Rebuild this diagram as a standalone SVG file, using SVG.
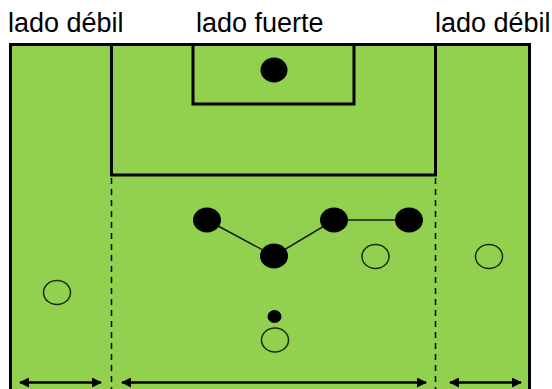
<svg xmlns="http://www.w3.org/2000/svg" width="552" height="389" viewBox="0 0 552 389">
<style>
.lbl{font-family:"Liberation Sans",Arial,sans-serif;font-size:27px;fill:#000}
.fl{fill:none;stroke:#000;stroke-width:3}
.pitch{fill:#92D050;stroke:#000;stroke-width:3}
.dash{stroke:#000;stroke-width:1.5;stroke-dasharray:6,5}
.def{fill:#000}
.att{fill:none;stroke:#1a2a0a;stroke-width:1.5}
.arr{stroke:#000;stroke-width:2.5;marker-start:url(#ah);marker-end:url(#ah)}
.lnk{stroke:#1a1a1a;stroke-width:1.5}
</style>
<defs>
<marker id="ah" viewBox="0 0 10 10" refX="9" refY="5" markerWidth="4" markerHeight="4" orient="auto-start-reverse" markerUnits="strokeWidth">
<path d="M0,0 L10,5 L0,10 z" fill="#000"/>
</marker>
</defs>
<rect width="552" height="389" fill="#fff"/>
<g id="field">
<rect x="10.5" y="44.5" width="519" height="360" class="pitch"/>
<polyline class="fl" points="111.5,44.5 111.5,175 435.5,175 435.5,44.5"/>
<polyline class="fl" points="193,44.5 193,104 354,104 354,44.5"/>
<line class="dash" x1="111.5" y1="178" x2="111.5" y2="389"/>
<line class="dash" x1="435.5" y1="178" x2="435.5" y2="389"/>
</g>
<g id="labels">
<text class="lbl" x="8" y="32">lado débil</text>
<text class="lbl" x="196" y="32">lado fuerte</text>
<text class="lbl" x="435" y="32">lado débil</text>
</g>
<g id="connectors">
<polyline class="lnk" fill="none" points="207,220 274,256 334,220 409,220"/>
<line class="arr" x1="20" y1="382.5" x2="101" y2="382.5"/>
<line class="arr" x1="122" y1="382.5" x2="426" y2="382.5"/>
<line class="arr" x1="450" y1="382.5" x2="521" y2="382.5"/>
</g>
<g id="goalkeeper"><ellipse class="def" cx="274" cy="70" rx="13.5" ry="12.5"/></g>
<g id="def1"><ellipse class="def" cx="207" cy="220" rx="14" ry="12.5"/></g>
<g id="def2"><ellipse class="def" cx="274" cy="256" rx="14" ry="12.5"/></g>
<g id="def3"><ellipse class="def" cx="334" cy="220" rx="14" ry="12.5"/></g>
<g id="def4"><ellipse class="def" cx="409" cy="220" rx="14" ry="12.5"/></g>
<g id="att1"><ellipse class="att" cx="375.5" cy="256.5" rx="13.5" ry="12"/></g>
<g id="att2"><ellipse class="att" cx="489" cy="256.5" rx="13.5" ry="12"/></g>
<g id="att3"><ellipse class="att" cx="57" cy="292.5" rx="13.5" ry="12"/></g>
<g id="ball"><ellipse class="def" cx="274.5" cy="316.5" rx="7" ry="6.5"/></g>
<g id="att4"><ellipse class="att" cx="275" cy="340" rx="13.5" ry="12"/></g>
</svg>
